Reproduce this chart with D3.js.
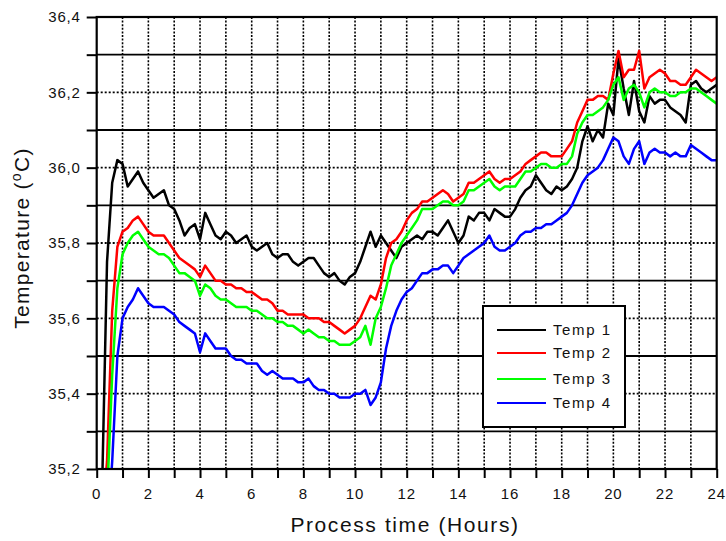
<!DOCTYPE html>
<html lang="en">
<head>
  <meta charset="UTF-8">
  <title>Temperature vs process time</title>
  <script src="https://d3js.org/d3.v7.min.js"></script>
  <style>
    body { margin: 0; background: #fff; }
    text { font-family: Arial, "Liberation Sans", sans-serif; fill: #111; }
  </style>
</head>
<body>
  <script>
    // 1. Data (hours every 0.2 h, temperatures in degC)
    const hours = [
      0,0.2,0.4,0.6,0.8,1,1.2,1.4,1.6,1.8,2,2.2,2.4,2.6,2.8,3,3.2,3.4,3.6,3.8,
      4,4.2,4.4,4.6,4.8,5,5.2,5.4,5.6,5.8,6,6.2,6.4,6.6,6.8,7,7.2,7.4,7.6,7.8,
      8,8.2,8.4,8.6,8.8,9,9.2,9.4,9.6,9.8,10,10.2,10.4,10.6,10.8,11,11.2,11.4,11.6,11.8,
      12,12.2,12.4,12.6,12.8,13,13.2,13.4,13.6,13.8,14,14.2,14.4,14.6,14.8,15,15.2,15.4,15.6,15.8,
      16,16.2,16.4,16.6,16.8,17,17.2,17.4,17.6,17.8,18,18.2,18.4,18.6,18.8,19,19.2,19.4,19.6,19.8,
      20,20.2,20.4,20.6,20.8,21,21.2,21.4,21.6,21.8,22,22.2,22.4,22.6,22.8,23,23.2,23.4,23.6,23.8,24
    ];

    const temp1 = [
      35.00,35.12,35.75,35.96,36.02,36.01,35.95,35.97,35.99,35.96,35.94,35.92,35.93,35.94,35.90,35.89,35.86,35.82,35.84,35.85,
      35.81,35.88,35.85,35.82,35.81,35.83,35.82,35.80,35.81,35.82,35.79,35.78,35.79,35.80,35.77,35.76,35.77,35.77,35.75,35.74,
      35.75,35.76,35.76,35.74,35.72,35.71,35.72,35.70,35.69,35.71,35.72,35.75,35.79,35.83,35.79,35.82,35.80,35.78,35.76,35.79,
      35.80,35.81,35.82,35.81,35.83,35.83,35.82,35.84,35.86,35.83,35.80,35.82,35.87,35.86,35.88,35.88,35.86,35.89,35.88,35.87,
      35.87,35.89,35.92,35.94,35.95,35.98,35.96,35.94,35.93,35.95,35.94,35.95,35.97,36.00,36.07,36.11,36.07,36.10,36.08,36.17,
      36.14,36.29,36.21,36.14,36.23,36.15,36.12,36.19,36.17,36.18,36.18,36.16,36.15,36.14,36.12,36.22,36.23,36.21,36.20,36.21,36.22
    ];

    const temp2 = [
      35.00,35.05,35.22,35.62,35.79,35.83,35.84,35.86,35.87,35.85,35.83,35.82,35.82,35.82,35.80,35.78,35.76,35.75,35.74,35.73,
      35.71,35.74,35.72,35.70,35.70,35.69,35.69,35.68,35.68,35.67,35.67,35.66,35.65,35.65,35.64,35.62,35.62,35.61,35.61,35.61,
      35.61,35.60,35.60,35.60,35.59,35.59,35.58,35.57,35.56,35.57,35.58,35.60,35.63,35.66,35.65,35.69,35.76,35.80,35.81,35.83,
      35.86,35.88,35.89,35.91,35.91,35.92,35.93,35.94,35.93,35.91,35.92,35.93,35.96,35.96,35.97,35.98,35.99,35.97,35.96,35.97,
      35.97,35.98,35.99,36.01,36.02,36.03,36.04,36.04,36.03,36.03,36.03,36.05,36.07,36.12,36.15,36.18,36.18,36.19,36.19,36.18,
      36.25,36.31,36.24,36.26,36.26,36.31,36.21,36.24,36.25,36.26,36.25,36.23,36.23,36.22,36.22,36.24,36.26,36.25,36.24,36.23,36.24
    ];

    const temp3 = [
      35.00,35.02,35.12,35.45,35.68,35.77,35.80,35.82,35.83,35.81,35.79,35.78,35.77,35.77,35.76,35.74,35.72,35.72,35.71,35.70,
      35.66,35.69,35.68,35.66,35.65,35.65,35.64,35.63,35.63,35.63,35.62,35.62,35.61,35.60,35.60,35.59,35.59,35.58,35.58,35.57,
      35.56,35.57,35.56,35.55,35.55,35.54,35.54,35.53,35.53,35.53,35.54,35.55,35.58,35.53,35.60,35.63,35.68,35.74,35.77,35.80,
      35.82,35.84,35.86,35.89,35.89,35.89,35.90,35.91,35.91,35.90,35.90,35.91,35.94,35.94,35.95,35.96,35.97,35.95,35.94,35.95,
      35.95,35.95,35.97,35.99,35.99,36.00,36.01,36.01,36.00,36.00,36.01,36.01,36.03,36.09,36.12,36.14,36.14,36.15,36.16,36.18,
      36.22,36.24,36.18,36.21,36.22,36.20,36.16,36.20,36.21,36.20,36.20,36.19,36.19,36.20,36.20,36.21,36.21,36.20,36.19,36.18,36.17
    ];

    const temp4 = [
      35.00,35.00,35.02,35.22,35.50,35.60,35.63,35.65,35.68,35.66,35.64,35.63,35.63,35.63,35.62,35.61,35.59,35.58,35.57,35.56,
      35.51,35.56,35.54,35.52,35.52,35.52,35.50,35.49,35.49,35.48,35.48,35.48,35.46,35.45,35.46,35.45,35.44,35.44,35.44,35.43,
      35.43,35.44,35.42,35.41,35.41,35.40,35.40,35.39,35.39,35.39,35.40,35.40,35.41,35.37,35.39,35.43,35.52,35.58,35.62,35.65,
      35.67,35.68,35.70,35.72,35.72,35.73,35.73,35.74,35.74,35.72,35.74,35.76,35.77,35.78,35.79,35.80,35.82,35.79,35.78,35.78,
      35.79,35.80,35.82,35.83,35.83,35.84,35.84,35.85,35.85,35.86,35.87,35.88,35.90,35.93,35.96,35.98,35.99,36.00,36.02,36.05,
      36.08,36.07,36.03,36.01,36.05,36.07,36.01,36.04,36.05,36.04,36.04,36.03,36.04,36.03,36.03,36.06,36.05,36.04,36.03,36.02,36.02
    ];

    const seriesNames = ["Temp 1", "Temp 2", "Temp 3", "Temp 4"];
    const seriesColors = ["#000000", "#ff0000", "#00ff00", "#0000ff"];
    const seriesValues = [temp1, temp2, temp3, temp4];

    const xTicks = [0, 2, 4, 6, 8, 10, 12, 14, 16, 18, 20, 22, 24];
    const yTicks = [35.2, 35.4, 35.6, 35.8, 36.0, 36.2, 36.4];

    // 2. SVG canvas
    const width = 726, height = 541;
    const margin = { top: 17, right: 9.3, bottom: 72, left: 96.7 };
    const innerW = width - margin.left - margin.right;
    const innerH = height - margin.top - margin.bottom;

    const svg = d3.select("body").append("svg")
      .attr("width", width)
      .attr("height", height);

    const g = svg.append("g")
      .attr("transform", `translate(${margin.left},${margin.top})`);

    // 3. Scales
    const x = d3.scaleLinear().domain([0, 24]).range([0, innerW]);
    const y = d3.scaleLinear().domain([35.2, 36.4]).range([innerH, 0]);

    const fmt = d => d3.format(".1f")(d).replace(".", ",");

    // 4. Grid
    const minorX = d3.range(1, 24);
    g.append("g").selectAll("line").data(minorX).join("line")
      .attr("x1", d => x(d)).attr("x2", d => x(d))
      .attr("y1", 0).attr("y2", innerH)
      .attr("stroke", "#000").attr("stroke-width", 1.6)
      .attr("stroke-dasharray", "2,1.6");

    const hLines = d3.range(1, 12).map(i => 35.2 + i * 0.1);
    g.append("g").selectAll("line").data(hLines).join("line")
      .attr("x1", 0).attr("x2", innerW)
      .attr("y1", d => y(d)).attr("y2", d => y(d))
      .attr("stroke", "#000").attr("stroke-width", 1.8)
      .attr("stroke-dasharray", (d, i) => i % 2 === 0 ? null : "2,2");

    // 5. Axes
    const yAxis = g.append("g")
      .call(d3.axisLeft(y).tickValues(d3.range(0, 13).map(i => 35.2 + i * 0.1))
        .tickSize(10).tickFormat(""));
    yAxis.selectAll("line").attr("stroke-width", 2);
    yAxis.select(".domain").remove();

    g.append("g").selectAll("text").data(yTicks).join("text")
      .attr("x", -16).attr("y", d => y(d)).attr("dy", "0.35em")
      .attr("text-anchor", "end")
      .attr("font-size", 15).attr("letter-spacing", 0.8)
      .text(fmt);

    const xAxis = g.append("g")
      .attr("transform", `translate(0,${innerH})`)
      .call(d3.axisBottom(x).tickValues(d3.range(0, 25)).tickSize(9).tickFormat(""));
    xAxis.selectAll("line").attr("stroke-width", 2);
    xAxis.select(".domain").remove();

    g.append("g").selectAll("text").data(xTicks).join("text")
      .attr("x", d => x(d)).attr("y", innerH + 30)
      .attr("text-anchor", "middle")
      .attr("font-size", 15).attr("letter-spacing", 0.8)
      .text(d => d);

    // 6. Lines
    svg.append("defs").append("clipPath").attr("id", "plot-clip")
      .append("rect").attr("width", innerW).attr("height", innerH);

    const line = d3.line()
      .x((d, i) => x(hours[i]))
      .y(d => y(d));

    g.append("g").attr("clip-path", "url(#plot-clip)")
      .selectAll("path").data(seriesValues).join("path")
      .attr("fill", "none")
      .attr("stroke", (d, i) => seriesColors[i])
      .attr("stroke-width", 2.5)
      .attr("stroke-linejoin", "round")
      .attr("d", line);

    // frame
    g.append("rect")
      .attr("width", innerW).attr("height", innerH)
      .attr("fill", "none").attr("stroke", "#000").attr("stroke-width", 2.2);

    // 7. Legend
    const legend = svg.append("g").attr("transform", "translate(483,306)");
    legend.append("rect")
      .attr("width", 142).attr("height", 121)
      .attr("fill", "#fff").attr("stroke", "#000").attr("stroke-width", 2);
    const rowsY = [24, 47, 73, 97];
    seriesNames.forEach((name, i) => {
      legend.append("line")
        .attr("x1", 14).attr("x2", 63)
        .attr("y1", rowsY[i]).attr("y2", rowsY[i])
        .attr("stroke", seriesColors[i]).attr("stroke-width", 2);
      legend.append("text")
        .attr("x", 70).attr("y", rowsY[i]).attr("dy", "0.35em")
        .attr("font-size", 15).attr("letter-spacing", 1.6)
        .text(name);
    });

    // 8. Axis titles
    svg.append("text")
      .attr("x", 405).attr("y", 532)
      .attr("text-anchor", "middle")
      .attr("font-size", 21).attr("letter-spacing", 1.6)
      .text("Process time (Hours)");

    const yTitle = svg.append("text")
      .attr("transform", "translate(29,238) rotate(-90)")
      .attr("text-anchor", "middle")
      .attr("font-size", 21).attr("letter-spacing", 1.3);
    yTitle.append("tspan").text("Temperature (");
    yTitle.append("tspan").attr("font-size", 14).attr("dy", -8).text("o");
    yTitle.append("tspan").attr("dy", 8).text("C)");
  </script>
</body>
</html>
